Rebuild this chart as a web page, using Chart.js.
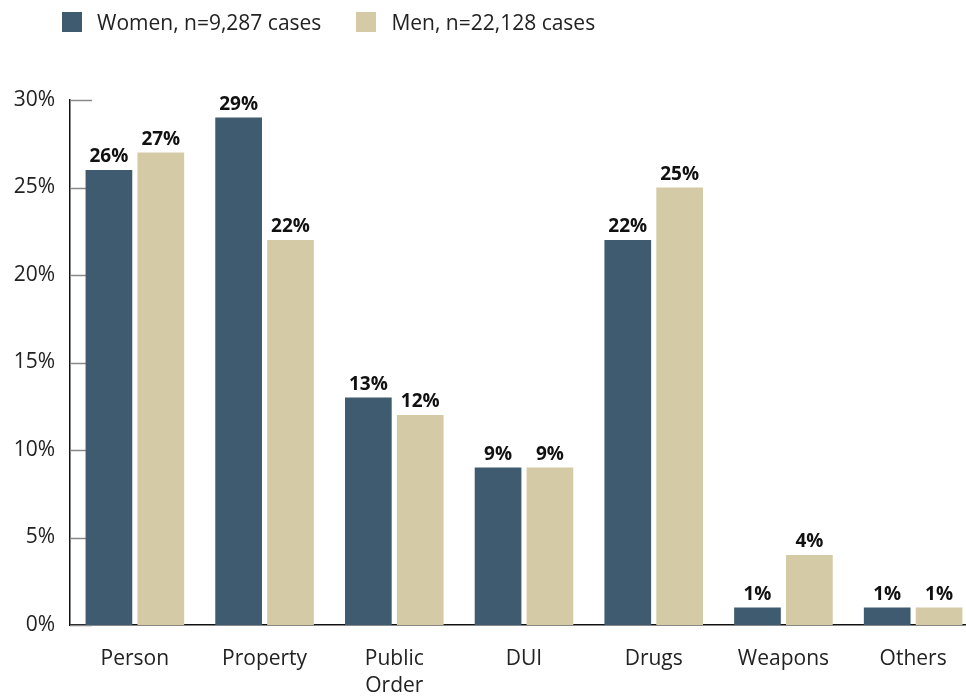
<!DOCTYPE html>
<html>
<head>
<meta charset="utf-8">
<script src="https://cdn.jsdelivr.net/npm/chart.js@4.4.1/dist/chart.umd.min.js"></script>
<style>
  html, body { margin: 0; padding: 0; background: #fff; overflow: hidden; }
  #wrap { position: relative; width: 966px; height: 696px; overflow: hidden; }
  #chart { position: absolute; left: 0; top: 0; }
  #legend { position: absolute; left: 62px; top: 8px; display: flex; font-family: "Open Sans", sans-serif; font-size: 21px; color: #222; }
  #legend .item { display: flex; align-items: center; margin-right: 35px; }
  #legend .box { width: 20px; height: 20px; margin-right: 15px; }
</style>
</head>
<body>
<div id="wrap">
  <canvas id="chart" width="980" height="696"></canvas>
  <div id="legend"></div>
</div>
<script>
const categories = ['Person', 'Property', ['Public', 'Order'], 'DUI', 'Drugs', 'Weapons', 'Others'];
const women = [26, 29, 13, 9, 22, 1, 1];
const men = [27, 22, 12, 9, 25, 4, 1];
const seriesNames = ['Women, n=9,287 cases', 'Men, n=22,128 cases'];
const seriesColors = ['#3e5b6f', '#d4cba6'];
const yTicks = [0, 5, 10, 15, 20, 25, 30];

const fontFamily = '"Open Sans", sans-serif';

// legend drawn as html above the canvas
const legendEl = document.getElementById('legend');
seriesNames.forEach((name, i) => {
    const item = document.createElement('div');
    item.className = 'item';
    item.innerHTML = '<span class="box" style="background:' + seriesColors[i] + '"></span>' + name;
    legendEl.appendChild(item);
});

// short grey tick marks sitting just inside the y axis, under the bars
const innerTicks = {
    id: 'innerTicks',
    beforeDatasetsDraw(chart) {
        const c = chart.ctx;
        const y = chart.scales.y;
        const left = chart.chartArea.left;
        c.save();
        c.strokeStyle = '#888';
        c.lineWidth = 1.5;
        yTicks.forEach(v => {
            const py = Math.round(y.getPixelForValue(v)) + 0.5;
            c.beginPath();
            c.moveTo(left, py);
            c.lineTo(left + 22, py);
            c.stroke();
        });
        c.restore();
    }
};

// bold value labels above each bar
const valueLabels = {
    id: 'valueLabels',
    afterDatasetsDraw(chart) {
        const c = chart.ctx;
        c.save();
        c.font = 'bold 19px ' + fontFamily;
        c.fillStyle = '#111';
        c.textAlign = 'center';
        c.textBaseline = 'alphabetic';
        chart.data.datasets.forEach((ds, i) => {
            chart.getDatasetMeta(i).data.forEach((bar, j) => {
                c.fillText(ds.data[j] + '%', bar.x, bar.y - 8);
            });
        });
        c.restore();
    }
};

new Chart(document.getElementById('chart'), {
    type: 'bar',
    data: {
        labels: categories,
        datasets: [
            { label: seriesNames[0], data: women, backgroundColor: seriesColors[0] },
            { label: seriesNames[1], data: men, backgroundColor: seriesColors[1] }
        ]
    },
    options: {
        responsive: false,
        animation: false,
        categoryPercentage: 0.8,
        barPercentage: 0.9,
        layout: {
            padding: { top: 100, right: 2, left: 0, bottom: 0 }
        },
        plugins: {
            legend: { display: false },
            tooltip: { enabled: false }
        },
        scales: {
            x: {
                afterFit(scale) { scale.height = 71; },
                grid: { display: false, drawTicks: false },
                border: { display: true, color: '#111', width: 1.5 },
                ticks: {
                    color: '#222',
                    padding: 20,
                    font: { family: fontFamily, size: 21, lineHeight: 1.3 }
                }
            },
            y: {
                min: 0,
                max: 30,
                afterFit(scale) { scale.width = 70; },
                grid: { display: false, drawTicks: false },
                border: { display: true, color: '#111', width: 1.5 },
                afterBuildTicks(scale) { scale.ticks = yTicks.map(v => ({ value: v })); },
                ticks: {
                    color: '#222',
                    padding: 15,
                    font: { family: fontFamily, size: 21 },
                    callback: v => v + '%'
                }
            }
        }
    },
    plugins: [innerTicks, valueLabels]
});
</script>
</body>
</html>
